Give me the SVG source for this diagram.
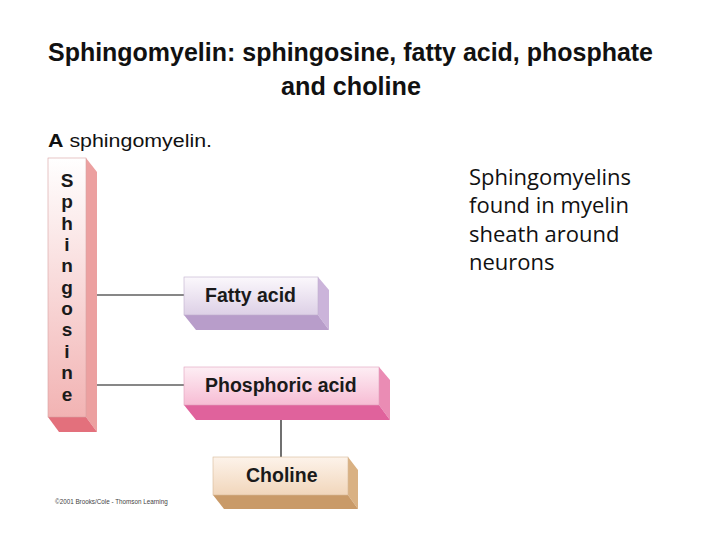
<svg xmlns="http://www.w3.org/2000/svg" width="720" height="540" viewBox="0 0 720 540">
<defs>
<linearGradient id="gSph" x1="0" y1="0" x2="0" y2="1"><stop offset="0" stop-color="#ffffff"/><stop offset="1" stop-color="#f2b3b3"/></linearGradient>
<linearGradient id="gFat" x1="0" y1="0" x2="0" y2="1"><stop offset="0" stop-color="#fbf8fc"/><stop offset="1" stop-color="#ddd0e6"/></linearGradient>
<linearGradient id="gPho" x1="0" y1="0" x2="0" y2="1"><stop offset="0" stop-color="#fdeef4"/><stop offset="1" stop-color="#f7bcd4"/></linearGradient>
<linearGradient id="gCho" x1="0" y1="0" x2="0" y2="1"><stop offset="0" stop-color="#fdf3ea"/><stop offset="1" stop-color="#f1d6bb"/></linearGradient>
<style>
.title{font-family:"Liberation Sans",Arial,sans-serif;font-weight:bold;font-size:25px;fill:#111}
.sub{font-family:"Liberation Sans",Arial,sans-serif;font-size:18px;fill:#111}
.note{font-family:"Open Sans","Liberation Sans",sans-serif;font-size:22px;fill:#111}
.lbl{font-family:"Liberation Sans",Arial,sans-serif;font-weight:bold;font-size:19.5px;fill:#1a1a1a}
.vert{font-family:"Liberation Sans",Arial,sans-serif;font-weight:bold;font-size:19px;fill:#1a1a1a;text-anchor:middle}
.copy{font-family:"Liberation Sans",Arial,sans-serif;font-size:6.3px;fill:#444}
.edge{stroke:#111;stroke-width:1.2;fill:none}
</style>
</defs>
<rect width="720" height="540" fill="#ffffff"/>
<text class="title" x="48" y="61" textLength="605" lengthAdjust="spacingAndGlyphs">Sphingomyelin: sphingosine, fatty acid, phosphate</text>
<text class="title" x="351" y="95" text-anchor="middle" textLength="140" lengthAdjust="spacingAndGlyphs">and choline</text>
<text class="sub" x="48" y="147" textLength="164" lengthAdjust="spacingAndGlyphs"><tspan font-weight="bold">A</tspan> sphingomyelin.</text>
<g id="note">
<text class="note" x="469" y="185">Sphingomyelins</text>
<text class="note" x="469" y="213">found in myelin</text>
<text class="note" x="469" y="242">sheath around</text>
<text class="note" x="469" y="270">neurons</text>
</g>
<g id="connectors">
<line class="edge" x1="97" y1="295" x2="184" y2="295"/>
<line class="edge" x1="97" y1="385" x2="184" y2="385"/>
<line class="edge" x1="281" y1="420" x2="281" y2="457"/>
</g>
<g id="sphingosine">
<polygon points="86,158 97,172 97,432 86,417" fill="#eca0a0"/>
<polygon points="48,417 86,417 97,432 59,432" fill="#e3707c"/>
<rect x="48" y="158" width="38" height="259" fill="url(#gSph)" stroke="#d8a0a0" stroke-width="0.6"/>
<text class="vert" x="67">
<tspan x="67" y="187">S</tspan><tspan x="67" y="208">p</tspan><tspan x="67" y="230">h</tspan><tspan x="67" y="251">i</tspan><tspan x="67" y="272">n</tspan><tspan x="67" y="294">g</tspan><tspan x="67" y="315">o</tspan><tspan x="67" y="336">s</tspan><tspan x="67" y="358">i</tspan><tspan x="67" y="379">n</tspan><tspan x="67" y="401">e</tspan>
</text>
</g>
<g id="fatty-acid">
<polygon points="318,277 329,290 329,330 318,315" fill="#cbb4da"/>
<polygon points="184,315 318,315 329,330 196,330" fill="#b89dca"/>
<rect x="184" y="277" width="134" height="38" fill="url(#gFat)" stroke="#c0b0cc" stroke-width="0.6"/>
<text class="lbl" x="205" y="302">Fatty acid</text>
</g>
<g id="phosphoric-acid">
<polygon points="379,367 390,380 390,420 379,405" fill="#ea8cb4"/>
<polygon points="184,405 379,405 390,420 196,420" fill="#e0629c"/>
<rect x="184" y="367" width="195" height="38" fill="url(#gPho)" stroke="#e0a0bc" stroke-width="0.6"/>
<text class="lbl" x="205" y="392">Phosphoric acid</text>
</g>
<g id="choline">
<polygon points="348,457 358,470 358,509 348,495" fill="#d9b183"/>
<polygon points="213,495 348,495 358,509 224,509" fill="#c99a68"/>
<rect x="213" y="457" width="135" height="38" fill="url(#gCho)" stroke="#d8b898" stroke-width="0.6"/>
<text class="lbl" x="246" y="482">Choline</text>
</g>
<text class="copy" x="55" y="504">©2001 Brooks/Cole - Thomson Learning</text>
</svg>
